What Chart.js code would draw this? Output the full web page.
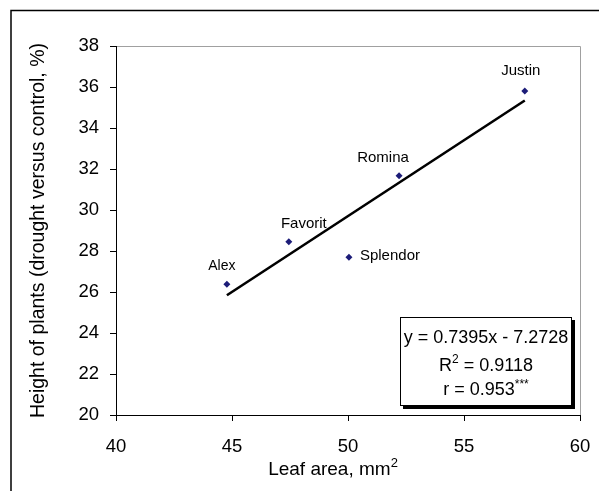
<!DOCTYPE html>
<html>
<head>
<meta charset="utf-8">
<script src="https://cdn.jsdelivr.net/npm/chart.js@4/dist/chart.umd.min.js"></script>
<style>
  html, body { margin: 0; padding: 0; background: #fff; }
  #wrap { width: 599px; height: 491px; position: relative; }
</style>
</head>
<body>
<div id="wrap"><canvas id="chart" width="599" height="491"></canvas></div>
<script>
// values
const cultivars = ['Alex', 'Favorit', 'Splendor', 'Romina', 'Justin'];
const leafArea = [44.78, 47.45, 50.04, 52.2, 57.62];
const heightPct = [26.38, 28.45, 27.7, 31.67, 35.8];
const trendX = [44.78, 57.62];
const trendY = [25.84, 35.34];
const xTicks = [40, 45, 50, 55, 60];
const yTicks = [20, 22, 24, 26, 28, 30, 32, 34, 36, 38];
const xTitle = ['Leaf area, mm', '2'];
const yTitle = 'Height of plants (drought versus control, %)';
const eqText = 'y = 0.7395x - 7.2728';
const r2Text = ['R', '2', ' = 0.9118'];
const rText = ['r = 0.953', '***'];

const FONT = '"Liberation Sans", Arial, sans-serif';

// label placement relative to each point (px)
const labelPos = {
  Alex: { dx: -5, dy: -18, align: 'center', size: 14 },
  Favorit: { dx: 15, dy: -18, align: 'center', size: 15 },
  Splendor: { dx: 11, dy: -1, align: 'left', size: 15 },
  Romina: { dx: -16, dy: -18, align: 'center', size: 15 },
  Justin: { dx: -4, dy: -20, align: 'center', size: 15 }
};

const framePlugin = {
  id: 'frame',
  beforeDraw(chart) {
    const ctx = chart.ctx;
    const a = chart.chartArea;
    ctx.save();
    ctx.strokeStyle = '#000';
    ctx.lineWidth = 1.5;
    ctx.strokeRect(11, 10.5, 800, 800);
    ctx.strokeStyle = '#a0a0a0';
    ctx.lineWidth = 1;
    ctx.beginPath();
    ctx.moveTo(a.left, a.top + 0.5);
    ctx.lineTo(a.right + 0.5, a.top + 0.5);
    ctx.lineTo(a.right + 0.5, a.bottom);
    ctx.stroke();
    ctx.restore();
  }
};

const labelPlugin = {
  id: 'pointLabels',
  afterDatasetsDraw(chart) {
    const ctx = chart.ctx;
    const xs = chart.scales.x;
    const ys = chart.scales.y;
    ctx.save();
    ctx.fillStyle = '#000';
    ctx.textBaseline = 'middle';
    cultivars.forEach((name, i) => {
      const p = labelPos[name];
      ctx.font = p.size + 'px ' + FONT;
      ctx.textAlign = p.align;
      ctx.fillText(name, xs.getPixelForValue(leafArea[i]) + p.dx, ys.getPixelForValue(heightPct[i]) + p.dy);
    });
    ctx.restore();
  }
};

// x title sits a bit left of the plot centre in the original, with a real superscript
const xTitlePlugin = {
  id: 'xTitle',
  afterDraw(chart) {
    const ctx = chart.ctx;
    const big = '19px ' + FONT;
    const small = '13px ' + FONT;
    ctx.save();
    ctx.fillStyle = '#000';
    ctx.textBaseline = 'alphabetic';
    ctx.textAlign = 'left';
    ctx.font = big;
    const w1 = ctx.measureText(xTitle[0]).width;
    ctx.font = small;
    const w2 = ctx.measureText(xTitle[1]).width;
    const sx = 333 - (w1 + w2) / 2;
    ctx.font = big;
    ctx.fillText(xTitle[0], sx, 475);
    ctx.font = small;
    ctx.fillText(xTitle[1], sx + w1, 467);
    ctx.restore();
  }
};

const eqPlugin = {
  id: 'equationBox',
  afterDraw(chart) {
    const ctx = chart.ctx;
    const bx = 400, by = 317, bw = 172, bh = 89;
    const big = '18px ' + FONT;
    const small = '12px ' + FONT;
    ctx.save();
    ctx.fillStyle = '#000';
    ctx.fillRect(bx + 3, by + 3, bw, bh);
    ctx.fillStyle = '#fff';
    ctx.fillRect(bx, by, bw, bh);
    ctx.strokeStyle = '#000';
    ctx.lineWidth = 1;
    ctx.strokeRect(bx + 0.5, by + 0.5, bw - 1, bh - 1);
    ctx.fillStyle = '#000';
    ctx.textBaseline = 'alphabetic';
    const cx = bx + bw / 2;

    ctx.font = big;
    ctx.textAlign = 'center';
    ctx.fillText(eqText, cx, by + 26);

    // R² line
    ctx.textAlign = 'left';
    ctx.font = big;
    const w1 = ctx.measureText(r2Text[0]).width;
    const w3 = ctx.measureText(r2Text[2]).width;
    ctx.font = small;
    const w2 = ctx.measureText(r2Text[1]).width;
    let sx = cx - (w1 + w2 + w3) / 2;
    ctx.font = big;
    ctx.fillText(r2Text[0], sx, by + 54);
    ctx.font = small;
    ctx.fillText(r2Text[1], sx + w1, by + 46);
    ctx.font = big;
    ctx.fillText(r2Text[2], sx + w1 + w2, by + 54);

    // r line with significance stars
    const w4 = ctx.measureText(rText[0]).width;
    ctx.font = small;
    const w5 = ctx.measureText(rText[1]).width;
    sx = cx - (w4 + w5) / 2;
    ctx.font = big;
    ctx.fillText(rText[0], sx, by + 78);
    ctx.font = small;
    ctx.fillText(rText[1], sx + w4, by + 71);
    ctx.restore();
  }
};

new Chart(document.getElementById('chart'), {
  type: 'scatter',
  data: {
    datasets: [
      {
        label: 'Cultivars',
        data: leafArea.map((x, i) => ({ x, y: heightPct[i] })),
        pointStyle: 'rectRot',
        pointRadius: 3.5,
        backgroundColor: '#1c1c78',
        borderColor: '#1c1c78',
        borderWidth: 0,
        order: 1
      },
      {
        label: 'Trend',
        data: trendX.map((x, i) => ({ x, y: trendY[i] })),
        showLine: true,
        borderColor: '#000',
        borderWidth: 2.6,
        pointRadius: 0,
        order: 2
      }
    ]
  },
  options: {
    responsive: false,
    animation: false,
    devicePixelRatio: 1,
    layout: { padding: { top: 46, right: 19, left: 0, bottom: 0 } },
    plugins: {
      legend: { display: false },
      tooltip: { enabled: false }
    },
    scales: {
      x: {
        type: 'linear',
        min: 40,
        max: 60,
        afterBuildTicks: (s) => { s.ticks = xTicks.map((v) => ({ value: v })); },
        afterFit: (s) => { s.height = 76; s.paddingLeft = 0; s.paddingRight = 0; },
        ticks: { color: '#000', padding: 15, font: { family: FONT, size: 18.5 } },
        grid: { drawOnChartArea: false, drawTicks: true, tickLength: 6, color: '#000' },
        border: { color: '#000', width: 1 },
        title: { display: false }
      },
      y: {
        type: 'linear',
        min: 20,
        max: 38,
        afterBuildTicks: (s) => { s.ticks = yTicks.map((v) => ({ value: v })); },
        afterFit: (s) => { s.width = 116; },
        ticks: { color: '#000', padding: 11, font: { family: FONT, size: 18.5 } },
        grid: { drawOnChartArea: false, drawTicks: true, tickLength: 6, color: '#000' },
        border: { color: '#000', width: 1 },
        title: {
          display: true,
          text: yTitle,
          color: '#000',
          font: { family: FONT, size: 19.5 },
          padding: { top: 27, bottom: 0 }
        }
      }
    }
  },
  plugins: [framePlugin, labelPlugin, xTitlePlugin, eqPlugin]
});
</script>
</body>
</html>
